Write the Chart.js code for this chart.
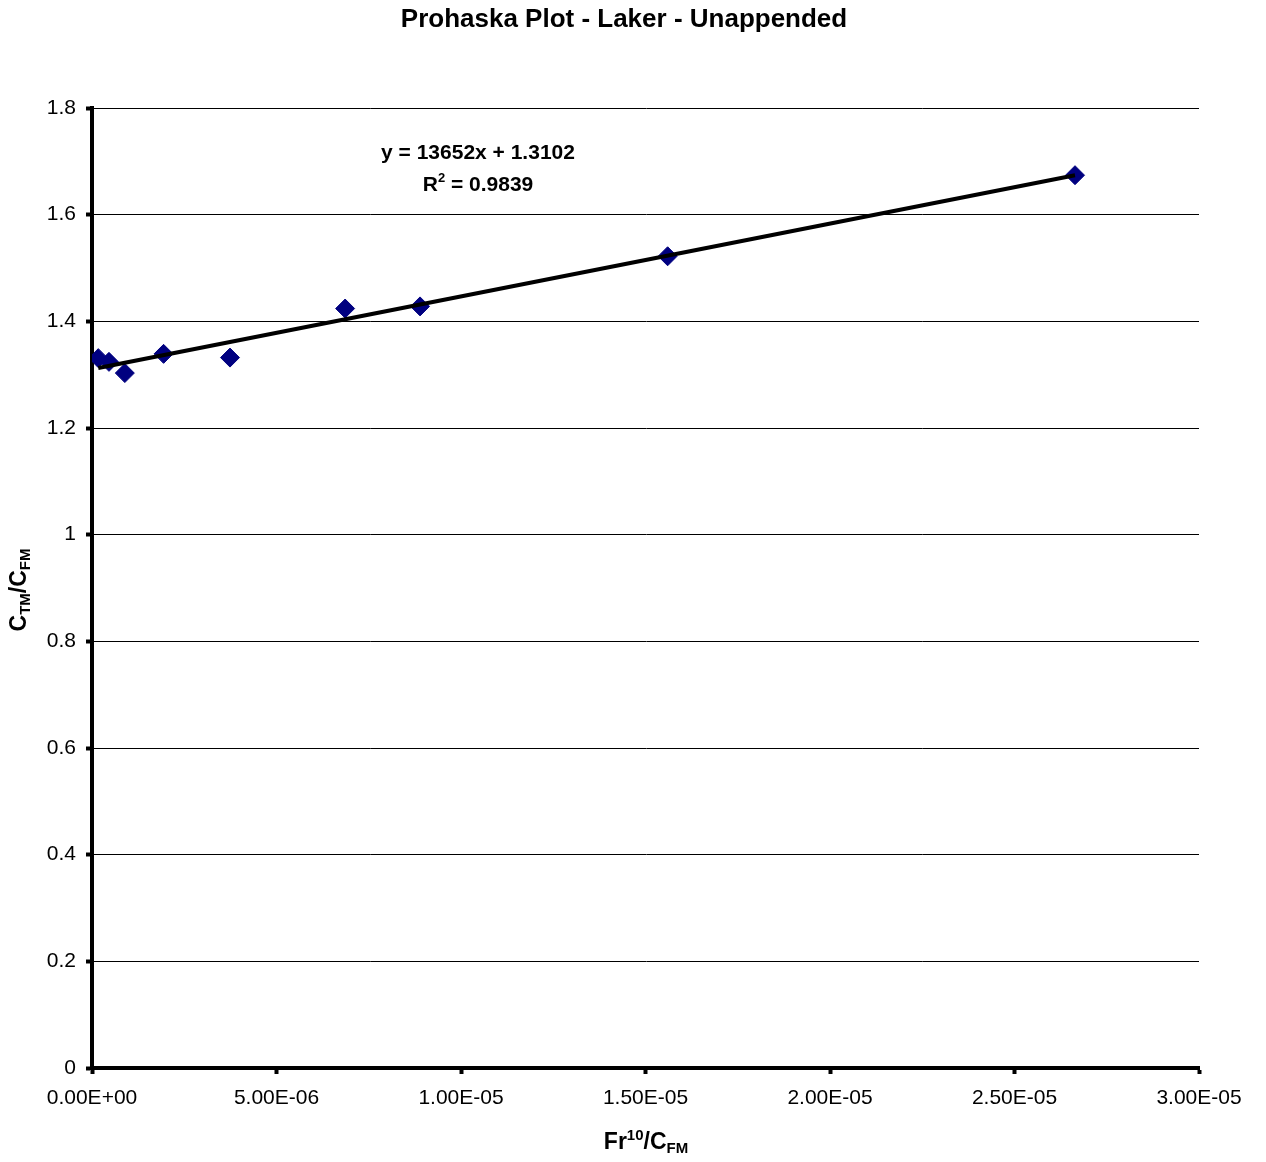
<!DOCTYPE html>
<html lang="en">
<head>
  <meta charset="UTF-8">
  <title>Prohaska Plot - Laker - Unappended</title>
  <script src="https://cdn.jsdelivr.net/npm/chart.js"></script>
  <style>
    body {
      margin: 0;
      background-color: #fff;
    }
    canvas {
      display: block;
    }
  </style>
</head>
<body>
  <canvas id="chart" width="1266" height="1162"></canvas>

  <script>
    // measured runs: Fr^10/C_FM against C_TM/C_FM
    const frOverCfm = [0.17e-6, 0.46e-6, 0.89e-6, 1.94e-6, 3.74e-6, 6.86e-6, 8.89e-6, 15.6e-6, 26.64e-6];
    const ctmOverCfm = [1.331, 1.324, 1.303, 1.339, 1.332, 1.424, 1.428, 1.522, 1.674];

    // linear trendline as reported
    const slope = 13652;
    const intercept = 1.3102;
    const rSquared = 0.9839;

    const xTicks = [0, 5e-6, 1e-5, 1.5e-5, 2e-5, 2.5e-5, 3e-5];
    const yTicks = [0, 0.2, 0.4, 0.6, 0.8, 1, 1.2, 1.4, 1.6, 1.8];

    const FONT = "'Liberation Sans', Arial, sans-serif";

    const points = frOverCfm.map((x, i) => ({ x: x, y: ctmOverCfm[i] }));
    const xLo = Math.min(...frOverCfm);
    const xHi = Math.max(...frOverCfm);
    const trend = [
      { x: xLo, y: slope * xLo + intercept },
      { x: xHi, y: slope * xHi + intercept }
    ];

    function sci(v) {
      const [m, e] = v.toExponential(2).split('e');
      const sign = e[0] === '-' ? '-' : '+';
      const digits = e.replace(/[+-]/, '').padStart(2, '0');
      return m + 'E' + sign + digits;
    }

    // draws a row of text pieces, each with its own size and vertical shift
    function drawRuns(ctx, runs, x, y) {
      let total = 0;
      runs.forEach(r => {
        ctx.font = 'bold ' + r.size + 'px ' + FONT;
        r.w = ctx.measureText(r.t).width;
        total += r.w;
      });
      let cx = x - total / 2;
      runs.forEach(r => {
        ctx.font = 'bold ' + r.size + 'px ' + FONT;
        ctx.fillText(r.t, cx, y + (r.dy || 0));
        cx += r.w;
      });
    }

    const labelsPlugin = {
      id: 'labels',
      afterDraw(chart) {
        const ctx = chart.ctx;
        ctx.save();
        ctx.fillStyle = '#000';
        ctx.textAlign = 'left';
        ctx.textBaseline = 'alphabetic';

        drawRuns(ctx, [{ t: 'Prohaska Plot - Laker - Unappended', size: 26 }], 624, 27);

        // trendline equation
        drawRuns(ctx, [{ t: 'y = ' + slope + 'x + ' + intercept, size: 21 }], 478, 159);
        drawRuns(ctx, [
          { t: 'R', size: 21 },
          { t: '2', size: 13, dy: -9 },
          { t: ' = ' + rSquared, size: 21 }
        ], 478, 191);

        // x axis title
        drawRuns(ctx, [
          { t: 'Fr', size: 23 },
          { t: '10', size: 15, dy: -9 },
          { t: '/C', size: 23 },
          { t: 'FM', size: 15, dy: 4 }
        ], 646, 1149);

        // y axis title
        ctx.translate(26, 590);
        ctx.rotate(-Math.PI / 2);
        drawRuns(ctx, [
          { t: 'C', size: 23 },
          { t: 'TM', size: 15, dy: 4 },
          { t: '/C', size: 23 },
          { t: 'FM', size: 15, dy: 4 }
        ], 0, 0);
        ctx.restore();
      }
    };

    const tickFont = { family: FONT, size: 21 };

    new Chart(document.getElementById('chart'), {
      type: 'scatter',
      data: {
        datasets: [
          {
            type: 'line',
            data: trend,
            borderColor: '#000',
            borderWidth: 4,
            pointRadius: 0,
            fill: false,
            order: 0
          },
          {
            data: points,
            pointStyle: 'rectRot',
            pointRadius: 9.5,
            backgroundColor: '#000080',
            borderColor: '#000080',
            borderWidth: 1,
            order: 1
          }
        ]
      },
      options: {
        responsive: false,
        animation: false,
        layout: { padding: { left: 0, top: 108, right: 67, bottom: 0 } },
        plugins: {
          legend: { display: false },
          tooltip: { enabled: false }
        },
        scales: {
          x: {
            type: 'linear',
            min: 0,
            max: 3e-5,
            afterBuildTicks: s => { s.ticks = xTicks.map(v => ({ value: v })); },
            afterFit: s => { s.height = 94; },
            border: { color: '#000', width: 4 },
            grid: { drawOnChartArea: false, drawTicks: true, tickLength: 6, tickWidth: 4, tickColor: '#000' },
            ticks: { color: '#000', font: tickFont, padding: 12, maxRotation: 0, callback: v => sci(v) }
          },
          y: {
            min: 0,
            max: 1.8,
            afterBuildTicks: s => { s.ticks = yTicks.map(v => ({ value: v })); },
            afterFit: s => { s.width = 92; },
            border: { color: '#000', width: 4 },
            grid: { color: '#000', lineWidth: 1, drawTicks: true, tickLength: 6, tickWidth: 4, tickColor: '#000' },
            ticks: { color: '#000', font: tickFont, padding: 10, callback: v => String(+v.toFixed(1)) }
          }
        }
      },
      plugins: [labelsPlugin]
    });
  </script>
</body>
</html>
